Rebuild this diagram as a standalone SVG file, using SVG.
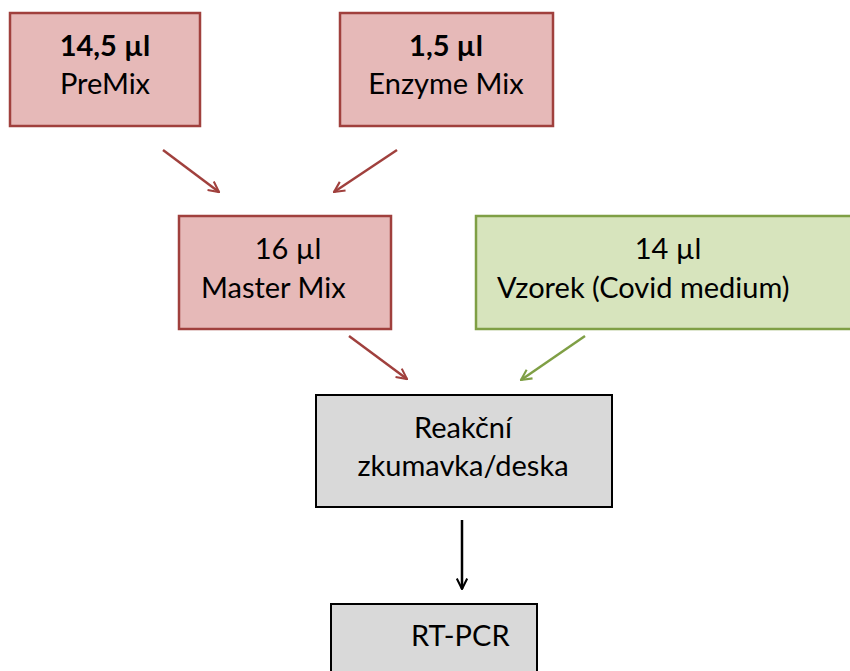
<svg xmlns="http://www.w3.org/2000/svg" width="850" height="671" viewBox="0 0 850 671">
<defs>
<style>
text{font-family:Lato,"Liberation Sans",sans-serif;font-size:29px;fill:#000}
.b{font-weight:bold}
.red{fill:#E6B9B8;stroke:#A0403D;stroke-width:2.5}
.green{fill:#D7E4BD;stroke:#7F9F45;stroke-width:2.5}
.gray{fill:#D9D9D9;stroke:#000;stroke-width:2}
.ar{stroke:#A0403D;stroke-width:2.5;fill:none}
.ag{stroke:#7F9F45;stroke-width:2.5;fill:none}
.ab{stroke:#000;stroke-width:2.5;fill:none}
</style>
<marker id="mr" viewBox="0 0 12 12" refX="11" refY="6" markerWidth="5" markerHeight="5" orient="auto" markerUnits="strokeWidth"><path d="M1,1 L11,6 L1,11" fill="none" stroke="#A0403D" stroke-width="2"/></marker>
<marker id="mg" viewBox="0 0 12 12" refX="11" refY="6" markerWidth="5" markerHeight="5" orient="auto" markerUnits="strokeWidth"><path d="M1,1 L11,6 L1,11" fill="none" stroke="#7F9F45" stroke-width="2"/></marker>
<marker id="mb" viewBox="0 0 12 12" refX="11" refY="6" markerWidth="5" markerHeight="5" orient="auto" markerUnits="strokeWidth"><path d="M1,1 L11,6 L1,11" fill="none" stroke="#000" stroke-width="2"/></marker>
</defs>
<rect width="850" height="671" fill="#fff"/>
<g id="premix"><rect class="red" x="10" y="13" width="190" height="113"/><text class="b" x="105" y="56" text-anchor="middle">14,5 µl</text><text x="105" y="94" text-anchor="middle">PreMix</text></g>
<g id="enzyme"><rect class="red" x="340" y="13" width="213" height="113"/><text class="b" x="446" y="56" text-anchor="middle">1,5 µl</text><text x="446" y="94" text-anchor="middle">Enzyme Mix</text></g>
<g id="master"><rect class="red" x="179" y="216" width="212" height="113"/><text x="288" y="259" text-anchor="middle">16 µl</text><text x="201" y="298">Master Mix</text></g>
<g id="vzorek"><rect class="green" x="476" y="216" width="380" height="113"/><text x="668" y="259" text-anchor="middle">14 µl</text><text x="497" y="298">Vzorek (Covid medium)</text></g>
<g id="reakcni"><rect class="gray" x="316" y="395" width="296" height="112"/><text x="463" y="438" text-anchor="middle">Reakční</text><text x="463" y="476" text-anchor="middle">zkumavka/deska</text></g>
<g id="rtpcr"><rect class="gray" x="331" y="604" width="206" height="80"/><text x="411" y="646">RT-PCR</text></g>
<g id="connectors">
<line class="ar" x1="163" y1="150" x2="219" y2="192" marker-end="url(#mr)"/>
<line class="ar" x1="397" y1="150" x2="334" y2="192" marker-end="url(#mr)"/>
<line class="ar" x1="349" y1="336" x2="407" y2="379" marker-end="url(#mr)"/>
<line class="ag" x1="585" y1="336" x2="521" y2="380" marker-end="url(#mg)"/>
<line class="ab" x1="462" y1="520" x2="462" y2="589" marker-end="url(#mb)"/>
</g>
</svg>
